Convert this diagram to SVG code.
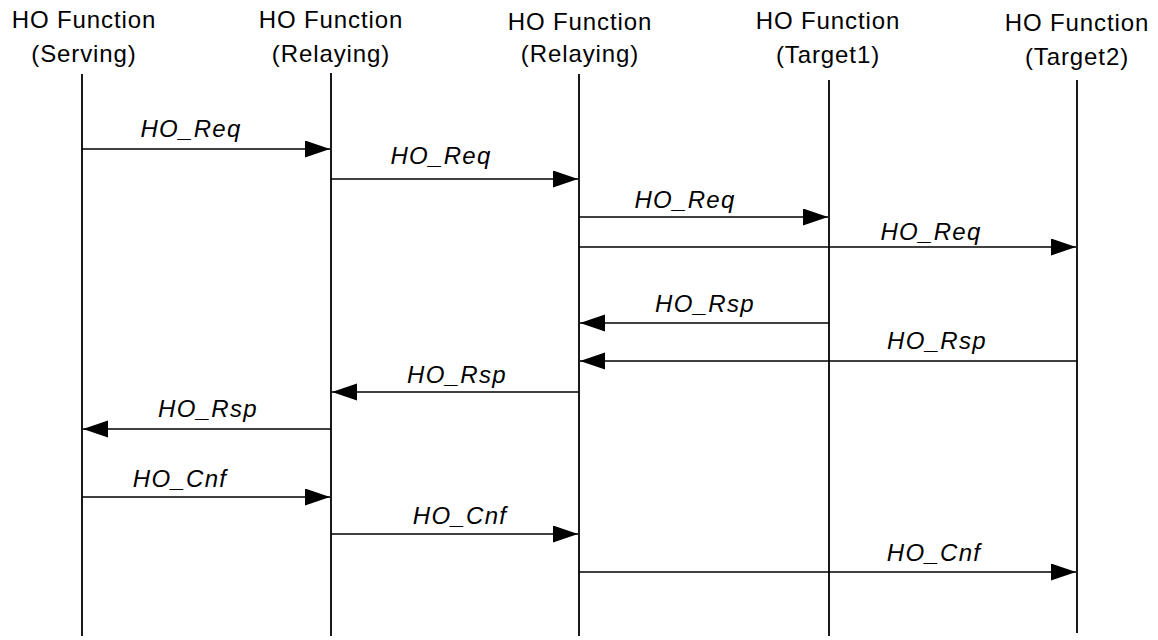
<svg xmlns="http://www.w3.org/2000/svg" width="1158" height="640" viewBox="0 0 1158 640">
<style>
.hdr{font-family:"Liberation Sans",Arial,sans-serif;font-size:24px;letter-spacing:0.9px;fill:#000;text-anchor:middle}
.lbl{font-family:"Liberation Sans",Arial,sans-serif;font-size:24px;letter-spacing:1.3px;font-style:italic;fill:#000;text-anchor:middle}
.life{stroke:#000;stroke-width:1.8;fill:none}
.msg{stroke:#000;stroke-width:1.7;fill:none;marker-end:url(#ah)}
</style>
<defs>
<marker id="ah" markerUnits="userSpaceOnUse" markerWidth="26" markerHeight="18" refX="25" refY="8.5" orient="auto">
<path d="M0,0 L25,8.5 L0,17 z" fill="#000"/>
</marker>
</defs>
<rect width="1158" height="640" fill="#fff"/>
<g id="serving">
<text class="hdr" x="84" y="28">HO Function</text>
<text class="hdr" x="84" y="62">(Serving)</text>
<line class="life" x1="82" y1="74" x2="82" y2="636"/>
</g>
<g id="relaying1">
<text class="hdr" x="331" y="28">HO Function</text>
<text class="hdr" x="331" y="62">(Relaying)</text>
<line class="life" x1="331" y1="73" x2="331" y2="636"/>
</g>
<g id="relaying2">
<text class="hdr" x="580" y="30">HO Function</text>
<text class="hdr" x="580" y="62">(Relaying)</text>
<line class="life" x1="579" y1="74" x2="579" y2="636"/>
</g>
<g id="target1">
<text class="hdr" x="828" y="29">HO Function</text>
<text class="hdr" x="828" y="63">(Target1)</text>
<line class="life" x1="829" y1="80" x2="829" y2="636"/>
</g>
<g id="target2">
<text class="hdr" x="1077" y="31">HO Function</text>
<text class="hdr" x="1077" y="65">(Target2)</text>
<line class="life" x1="1077" y1="80" x2="1077" y2="633"/>
</g>
<g id="connectors">
<line class="msg" x1="82" y1="149" x2="330" y2="149"/>
<text class="lbl" x="191" y="137">HO_Req</text>
<line class="msg" x1="331" y1="179" x2="578" y2="179"/>
<text class="lbl" x="441" y="164">HO_Req</text>
<line class="msg" x1="579" y1="217" x2="828" y2="217"/>
<text class="lbl" x="685" y="208">HO_Req</text>
<line class="msg" x1="579" y1="247" x2="1076" y2="247"/>
<text class="lbl" x="931" y="240">HO_Req</text>
<line class="msg" x1="829" y1="323" x2="580" y2="323"/>
<text class="lbl" x="705" y="312">HO_Rsp</text>
<line class="msg" x1="1077" y1="361" x2="580" y2="361"/>
<text class="lbl" x="937" y="349">HO_Rsp</text>
<line class="msg" x1="579" y1="392" x2="332" y2="392"/>
<text class="lbl" x="457" y="383">HO_Rsp</text>
<line class="msg" x1="331" y1="429" x2="83" y2="429"/>
<text class="lbl" x="208" y="417">HO_Rsp</text>
<line class="msg" x1="82" y1="497" x2="330" y2="497"/>
<text class="lbl" x="180" y="487">HO_Cnf</text>
<line class="msg" x1="331" y1="534" x2="578" y2="534"/>
<text class="lbl" x="460" y="524">HO_Cnf</text>
<line class="msg" x1="579" y1="572" x2="1076" y2="572"/>
<text class="lbl" x="934" y="561">HO_Cnf</text>
</g>
</svg>
